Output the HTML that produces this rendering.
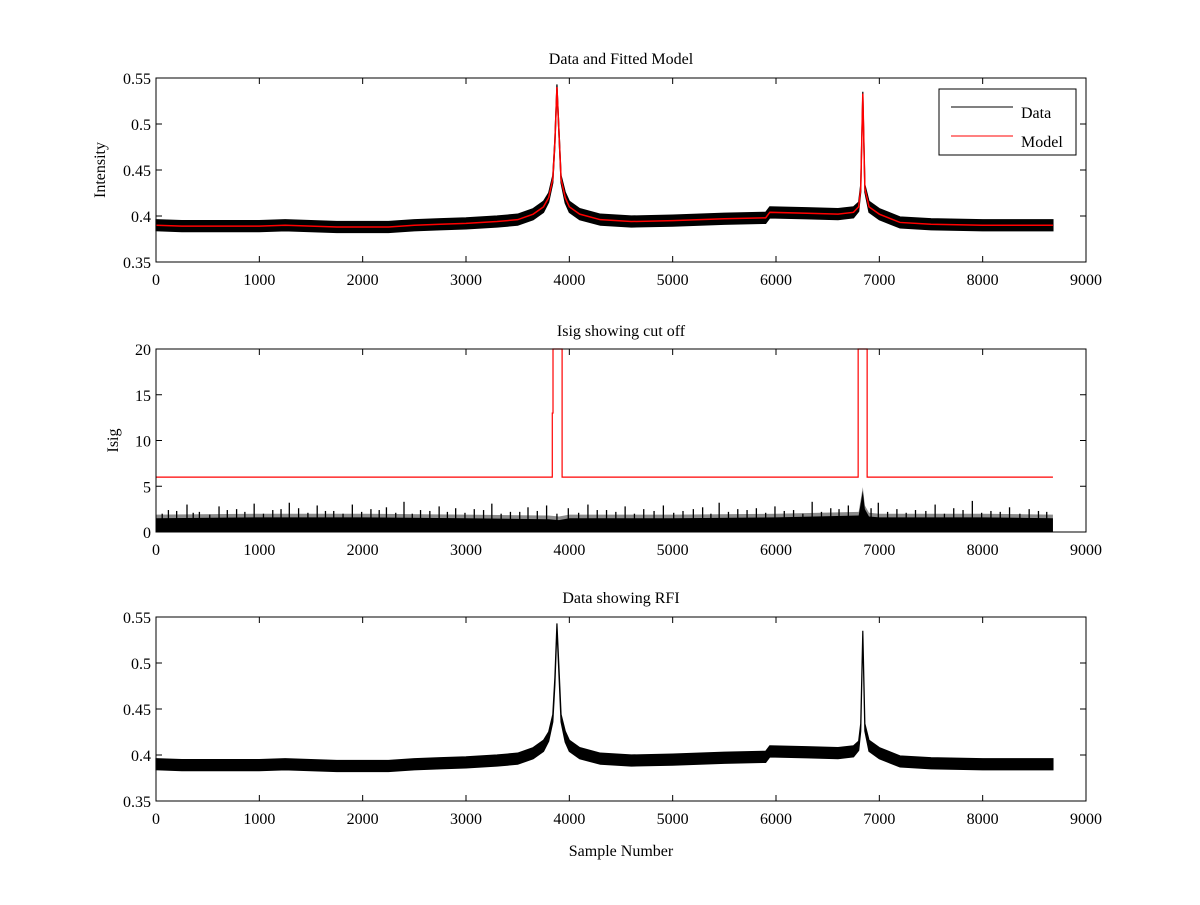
<!DOCTYPE html>
<html><head><meta charset="utf-8"><style>
body{margin:0;background:#fff}
svg text{font-family:"Liberation Serif",serif;font-size:16px;fill:#000}
</style></head><body>
<svg id="fig" width="1200" height="900" xmlns="http://www.w3.org/2000/svg"></svg>
<script>
// ---- data ----
const sampleX   = [0,250,500,750,1000,1250,1500,1750,2000,2250,2500,2750,3000,3300,3500,3650,3750,3800,3840,3860,3880,3900,3920,3960,4000,4100,4300,4600,5000,5500,5900,5940,6300,6600,6750,6800,6820,6840,6860,6900,7000,7200,7500,8000,8350,8680];
const modelY    = [0.390,0.389,0.389,0.389,0.389,0.390,0.389,0.388,0.388,0.388,0.390,0.391,0.392,0.394,0.396,0.402,0.410,0.420,0.440,0.480,0.540,0.490,0.440,0.420,0.410,0.402,0.396,0.394,0.395,0.397,0.398,0.404,0.403,0.402,0.404,0.410,0.430,0.533,0.430,0.410,0.402,0.393,0.391,0.390,0.390,0.390];
const spreadY   = [0.006,0.006,0.006,0.006,0.006,0.006,0.006,0.006,0.006,0.006,0.006,0.006,0.006,0.006,0.006,0.006,0.006,0.005,0.004,0.004,0.003,0.004,0.004,0.006,0.006,0.006,0.006,0.006,0.006,0.006,0.006,0.006,0.006,0.006,0.006,0.005,0.004,0.002,0.004,0.006,0.006,0.006,0.006,0.006,0.006,0.006];
const isigThrX  = [0,3835,3835,3842,3842,3842,3930,3930,6795,6795,6882,6882,8680];
const isigThrY  = [6,6,13,13,20,20,20,6,6,20,20,6,6];
const isigBandX = [0,1000,2000,3000,3800,3900,4000,5000,6000,6800,6840,6860,6900,7000,8000,8680];
const isigBandY = [1.5,1.6,1.6,1.5,1.4,1.3,1.5,1.5,1.6,1.8,4.5,2.5,1.7,1.6,1.6,1.5];
const spikeX = [120,300,420,610,780,950,1130,1290,1380,1560,1720,1900,2080,2230,2400,2560,2740,2900,3080,3250,3430,3600,3780,3990,4180,4360,4540,4720,4910,5100,5290,5450,5630,5810,5990,6170,6350,6530,6700,6990,7170,7350,7540,7720,7900,8080,8260,8450,8620];
const spikeY = [2.4,3.0,2.2,2.8,2.5,3.1,2.4,3.2,2.6,2.9,2.3,3.0,2.5,2.7,3.3,2.4,2.8,2.6,2.5,3.1,2.2,2.7,2.9,2.6,3.0,2.4,2.8,2.5,2.9,2.3,2.7,3.2,2.5,2.6,2.8,2.4,3.3,2.6,2.9,3.2,2.5,2.4,3.0,2.6,3.4,2.3,2.7,2.5,2.2];
const spike2X = [60,200,360,520,690,860,1040,1210,1470,1640,1810,1990,2160,2320,2480,2650,2820,2990,3170,3340,3520,3690,3880,4090,4270,4450,4630,4820,5010,5200,5370,5540,5720,5900,6080,6260,6440,6610,6920,7080,7260,7450,7630,7810,7990,8170,8360,8540];
const spike2Y = [2.0,2.3,2.1,1.9,2.4,2.2,2.0,2.5,2.1,2.3,2.0,2.2,2.4,2.1,2.0,2.3,2.2,2.1,2.4,2.0,2.2,2.3,2.0,2.1,2.4,2.2,2.0,2.3,2.1,2.5,2.0,2.2,2.4,2.1,2.3,2.0,2.2,2.5,2.6,2.2,2.1,2.3,2.0,2.4,2.1,2.2,2.0,2.3];
const xTicks = [0,1000,2000,3000,4000,5000,6000,7000,8000,9000];
const intTicks = [0.35,0.4,0.45,0.5,0.55];
const isigTicks = [0,5,10,15,20];

const NS="http://www.w3.org/2000/svg";
const svg=document.getElementById('fig');
function mk(tag,attrs,parent){const e=document.createElementNS(NS,tag);for(const k in attrs)e.setAttribute(k,attrs[k]);(parent||svg).appendChild(e);return e;}
const X0=156,X1=1086;
function sx(v){return X0+(v/9000)*(X1-X0);}
function axes(name,top,bot,ymin,ymax,yt,fmt,title,titleY,ylabel,ylx){
  const g=mk('g',{});
  
  
  const sy=v=>bot-(v-ymin)/(ymax-ymin)*(bot-top);
  return {g,sy,finish(){
    const f=mk('rect',{x:X0,y:top,width:X1-X0,height:bot-top,fill:'none',stroke:'#000','stroke-width':1},g);
    
    
    xTicks.forEach(t=>{const x=sx(t);
      mk('line',{x1:x,x2:x,y1:bot,y2:bot-6,stroke:'#000'},g);
      mk('line',{x1:x,x2:x,y1:top,y2:top+6,stroke:'#000'},g);
      const tx=mk('text',{x:x,y:bot+23,'text-anchor':'middle'},g);tx.textContent=t;
      
      
    });
    yt.forEach(t=>{const y=sy(t);
      mk('line',{x1:X0,x2:X0+6,y1:y,y2:y,stroke:'#000'},g);
      mk('line',{x1:X1,x2:X1-6,y1:y,y2:y,stroke:'#000'},g);
      const tx=mk('text',{x:X0-5,y:y+6,'text-anchor':'end'},g);tx.textContent=fmt(t);
      
      
    });
    const tt=mk('text',{x:(X0+X1)/2,y:titleY,'text-anchor':'middle'},g);tt.textContent=title;
    
    
    if(ylabel){const yl=mk('text',{x:ylx,y:(top+bot)/2,'text-anchor':'middle',transform:`rotate(-90 ${ylx} ${(top+bot)/2})`},g);yl.textContent=ylabel;
      
      }
  }};
}
const fmtI=t=>String(+t.toFixed(2));
function band(g,sy,name){
  let up=sampleX.map((x,i)=>sx(x)+','+sy(modelY[i]+spreadY[i]));
  let dn=sampleX.map((x,i)=>sx(x)+','+sy(modelY[i]-spreadY[i])).reverse();
  const p=mk('polygon',{points:up.concat(dn).join(' '),fill:'#000',stroke:'#000','stroke-width':1.2},g);
  
  
}
// subplot 1
const a1=axes('data-fitted-model-plot',78,262,0.35,0.55,intTicks,fmtI,'Data and Fitted Model',64,'Intensity',105);
band(a1.g,a1.sy,'data-series');
const m=mk('polyline',{points:sampleX.map((x,i)=>sx(x)+','+a1.sy(modelY[i])).join(' '),fill:'none',stroke:'#f00','stroke-width':1.5},a1.g);


a1.finish();
const lg=mk('g',{});


mk('rect',{x:939,y:89,width:137,height:66,fill:'#fff',stroke:'#000'},lg);
mk('line',{x1:951,x2:1013,y1:107,y2:107,stroke:'#000'},lg);
mk('line',{x1:951,x2:1013,y1:136,y2:136,stroke:'#f00'},lg);
const l1=mk('text',{x:1021,y:118},lg);l1.textContent='Data';


const l2=mk('text',{x:1021,y:147},lg);l2.textContent='Model';


// subplot 2
const a2=axes('isig-plot',349,532,0,20,isigTicks,t=>String(t),'Isig showing cut off',336,'Isig',118);
const bp=mk('polygon',{points:isigBandX.map((x,i)=>sx(x)+','+a2.sy(isigBandY[i])).concat([sx(8680)+','+a2.sy(0),sx(0)+','+a2.sy(0)]).join(' '),fill:'#000'},a2.g);


const shade=mk('polygon',{points:isigBandX.map((x,i)=>sx(x)+','+a2.sy(isigBandY[i]+0.4)).concat([sx(8680)+','+a2.sy(0),sx(0)+','+a2.sy(0)]).join(' '),fill:'#000','fill-opacity':0.45},a2.g);


spikeX.forEach((x,i)=>{const l=mk('line',{x1:sx(x),x2:sx(x),y1:a2.sy(0.8),y2:a2.sy(spikeY[i]),stroke:'#000','stroke-width':1.3},a2.g);
  
  });
spike2X.forEach((x,i)=>{const l=mk('line',{x1:sx(x),x2:sx(x),y1:a2.sy(0.8),y2:a2.sy(spike2Y[i]),stroke:'#000','stroke-width':1.3},a2.g);
  
  });
const th=mk('polyline',{points:isigThrX.map((x,i)=>sx(x)+','+a2.sy(isigThrY[i])).join(' '),fill:'none',stroke:'#f00','stroke-width':1.2},a2.g);


a2.finish();
// subplot 3
const a3=axes('data-rfi-plot',617,801,0.35,0.55,intTicks,fmtI,'Data showing RFI',603,null,0);
band(a3.g,a3.sy,'data-series');
a3.finish();
const xl=mk('text',{x:621,y:856,'text-anchor':'middle'});xl.textContent='Sample Number';


</script>
</body></html>
